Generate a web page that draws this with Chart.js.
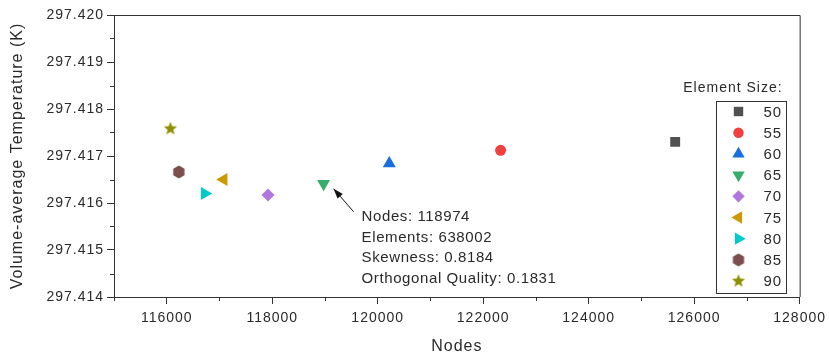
<!DOCTYPE html>
<html>
<head>
<meta charset="utf-8">
<script src="https://cdn.jsdelivr.net/npm/chart.js@4.4.1/dist/chart.umd.min.js"></script>
<style>
  html, body { margin: 0; padding: 0; background: #fff; }
</style>
</head>
<body>
<canvas id="chart" width="829" height="359"></canvas>
<script>
// element size of each mesh, node count and volume-average temperature
const sizes = ['50', '55', '60', '65', '70', '75', '80', '85', '90']
const nodes = [125640, 122330, 120220, 118974, 117920, 117080, 116720, 116230, 116070]
const temps = [297.41730, 297.41712, 297.41684, 297.41641, 297.41617, 297.41650, 297.41620, 297.41666, 297.41758]
const colors = ['#515151', '#F14040', '#1A6FDF', '#37AD6B', '#B177DE', '#CC9900', '#00CBCC', '#7D4E4E', '#8E8E00']

const xTicks = [116000, 118000, 120000, 122000, 124000, 126000, 128000]
const xMinor = [115000, 117000, 119000, 121000, 123000, 125000, 127000]
const yTicks = [297.414, 297.415, 297.416, 297.417, 297.418, 297.419, 297.420]
const yMinor = [297.4145, 297.4155, 297.4165, 297.4175, 297.4185, 297.4195]

const noteLines = ['Nodes: 118974', 'Elements: 638002', 'Skewness: 0.8184', 'Orthogonal Quality: 0.1831']

const FONT = '"Liberation Sans", Arial, sans-serif'
const TEXT = '#2a2a2a'

// hexagon and filled star are not built in, so draw them onto small canvases
function shapeCanvas(color, points) {
    const c = document.createElement('canvas')
    c.width = 16
    c.height = 16
    const g = c.getContext('2d')
    g.fillStyle = color
    g.beginPath()
    points.forEach(([px, py], i) => i ? g.lineTo(8 + px, 8 + py) : g.moveTo(8 + px, 8 + py))
    g.closePath()
    g.fill()
    return c
}

function hexagon(color, r) {
    const pts = []
    for (let i = 0; i < 6; i++) {
        const a = Math.PI / 6 + i * Math.PI / 3
        pts.push([Math.cos(a) * r, Math.sin(a) * r])
    }
    return shapeCanvas(color, pts)
}

function star(color, r1, r2) {
    const pts = []
    for (let i = 0; i < 10; i++) {
        const a = -Math.PI / 2 + i * Math.PI / 5
        const r = i % 2 ? r2 : r1
        pts.push([Math.cos(a) * r, Math.sin(a) * r])
    }
    return shapeCanvas(color, pts)
}

const markers = [
    { pointStyle: 'rect', radius: 7, rotation: 0 },
    { pointStyle: 'circle', radius: 5.5, rotation: 0 },
    { pointStyle: 'triangle', radius: 7.5, rotation: 0 },
    { pointStyle: 'triangle', radius: 7.5, rotation: 180 },
    { pointStyle: 'rectRot', radius: 6.5, rotation: 0 },
    { pointStyle: 'triangle', radius: 7.5, rotation: 270 },
    { pointStyle: 'triangle', radius: 7.5, rotation: 90 },
    { pointStyle: hexagon(colors[7], 6.5), radius: 6.5, rotation: 0 },
    { pointStyle: star(colors[8], 7, 3), radius: 7, rotation: 0 }
]

// letter spacing has to be re-applied since resizing resets the context
const spacing = {
    id: 'spacing',
    beforeDraw(chart) {
        chart.ctx.letterSpacing = '1px'
    }
}

// top/right frame and the minor tick marks
const frame = {
    id: 'frame',
    afterDraw(chart) {
        const { ctx, chartArea: a, scales: { x, y } } = chart
        ctx.save()
        ctx.strokeStyle = '#333'
        ctx.lineWidth = 1
        ctx.beginPath()
        ctx.moveTo(a.left, a.top + 0.5)
        ctx.lineTo(a.right + 0.5, a.top + 0.5)
        ctx.lineTo(a.right + 0.5, a.bottom)
        xMinor.forEach(v => {
            const px = Math.round(x.getPixelForValue(v)) + 0.5
            ctx.moveTo(px, a.bottom)
            ctx.lineTo(px, a.bottom + 4)
        })
        yMinor.forEach(v => {
            const py = Math.round(y.getPixelForValue(v)) + 0.5
            ctx.moveTo(a.left, py)
            ctx.lineTo(a.left - 4, py)
        })
        ctx.stroke()
        ctx.restore()
    }
}

// arrow and mesh details next to the 65 point
const note = {
    id: 'note',
    afterDatasetsDraw(chart) {
        const { ctx, scales: { x, y } } = chart
        const px = x.getPixelForValue(nodes[3])
        const py = y.getPixelForValue(temps[3])
        const tipX = px + 10, tipY = py + 5
        const tailX = px + 30, tailY = py + 28
        const ang = Math.atan2(tipY - tailY, tipX - tailX)
        ctx.save()
        ctx.strokeStyle = '#111'
        ctx.fillStyle = '#111'
        ctx.lineWidth = 1
        ctx.beginPath()
        ctx.moveTo(tailX, tailY)
        ctx.lineTo(tipX, tipY)
        ctx.stroke()
        ctx.beginPath()
        ctx.moveTo(tipX, tipY)
        ctx.lineTo(tipX - 10 * Math.cos(ang) + 3.5 * Math.sin(ang), tipY - 10 * Math.sin(ang) - 3.5 * Math.cos(ang))
        ctx.lineTo(tipX - 10 * Math.cos(ang) - 3.5 * Math.sin(ang), tipY - 10 * Math.sin(ang) + 3.5 * Math.cos(ang))
        ctx.closePath()
        ctx.fill()
        ctx.fillStyle = TEXT
        ctx.font = '15px ' + FONT
        ctx.letterSpacing = '0.6px'
        ctx.textAlign = 'left'
        ctx.textBaseline = 'middle'
        noteLines.forEach((t, i) => ctx.fillText(t, px + 38, py + 33 + i * 20.8))
        ctx.restore()
    }
}

// boxed legend inside the plot, lower right
const sizeLegend = {
    id: 'sizeLegend',
    afterDraw(chart) {
        const { ctx, chartArea: a } = chart
        const boxL = Math.round(a.right - 84) + 0.5
        const boxR = Math.round(a.right - 14) + 0.5
        const boxT = Math.round(a.top + 86) + 0.5
        const boxB = Math.round(a.bottom - 4) + 0.5
        ctx.save()
        ctx.fillStyle = TEXT
        ctx.font = '14px ' + FONT
        ctx.textAlign = 'right'
        ctx.textBaseline = 'middle'
        ctx.fillText('Element Size:', a.right - 17, a.top + 73)
        ctx.strokeStyle = '#333'
        ctx.lineWidth = 1
        ctx.strokeRect(boxL, boxT, boxR - boxL, boxB - boxT)
        ctx.font = '15px ' + FONT
        ctx.textAlign = 'left'
        sizes.forEach((s, i) => {
            const rowY = boxT + 10 + i * 21.2
            const m = markers[i]
            ctx.fillStyle = colors[i]
            Chart.helpers.drawPoint(ctx, {
                pointStyle: m.pointStyle,
                radius: m.radius * 0.95,
                rotation: m.rotation,
                borderWidth: 0
            }, boxL + 22, rowY)
            ctx.fillStyle = TEXT
            ctx.fillText(s, boxL + 47, rowY + 1)
        })
        ctx.restore()
    }
}

const datasets = sizes.map((s, i) => ({
    label: s,
    data: [{ x: nodes[i], y: temps[i] }],
    pointStyle: markers[i].pointStyle,
    pointRadius: markers[i].radius,
    pointHoverRadius: markers[i].radius,
    pointRotation: markers[i].rotation,
    backgroundColor: colors[i],
    borderColor: colors[i],
    borderWidth: 0
}))

new Chart(document.getElementById('chart'), {
    type: 'scatter',
    data: { datasets },
    plugins: [spacing, frame, note, sizeLegend],
    options: {
        responsive: false,
        animation: false,
        layout: { padding: { top: 15, right: 27, left: 0, bottom: 0 } },
        plugins: {
            legend: { display: false },
            tooltip: { enabled: false }
        },
        scales: {
            x: {
                type: 'linear',
                min: 115000,
                max: 128000,
                afterBuildTicks: s => { s.ticks = xTicks.map(v => ({ value: v })) },
                afterFit: s => { s.height = 62 },
                ticks: {
                    callback: v => String(v),
                    color: TEXT,
                    font: { family: FONT, size: 14 },
                    padding: 6,
                    maxRotation: 0,
                    autoSkip: false
                },
                grid: { drawOnChartArea: false, tickLength: 7, tickColor: '#333' },
                border: { color: '#333', width: 1 },
                title: {
                    display: true,
                    text: 'Nodes',
                    color: TEXT,
                    font: { family: FONT, size: 16 },
                    padding: { top: 0, bottom: 3 }
                }
            },
            y: {
                type: 'linear',
                min: 297.414,
                max: 297.420,
                afterBuildTicks: s => { s.ticks = yTicks.map(v => ({ value: v })) },
                afterFit: s => { s.width = 114 },
                ticks: {
                    callback: v => v.toFixed(3),
                    color: TEXT,
                    font: { family: FONT, size: 14 },
                    padding: 3,
                    autoSkip: false
                },
                grid: { drawOnChartArea: false, tickLength: 7, tickColor: '#333' },
                border: { color: '#333', width: 1 },
                title: {
                    display: true,
                    text: 'Volume-average Temperature (K)',
                    color: TEXT,
                    font: { family: FONT, size: 16 },
                    padding: { top: 8, bottom: 0 }
                }
            }
        }
    }
})
</script>
</body>
</html>
